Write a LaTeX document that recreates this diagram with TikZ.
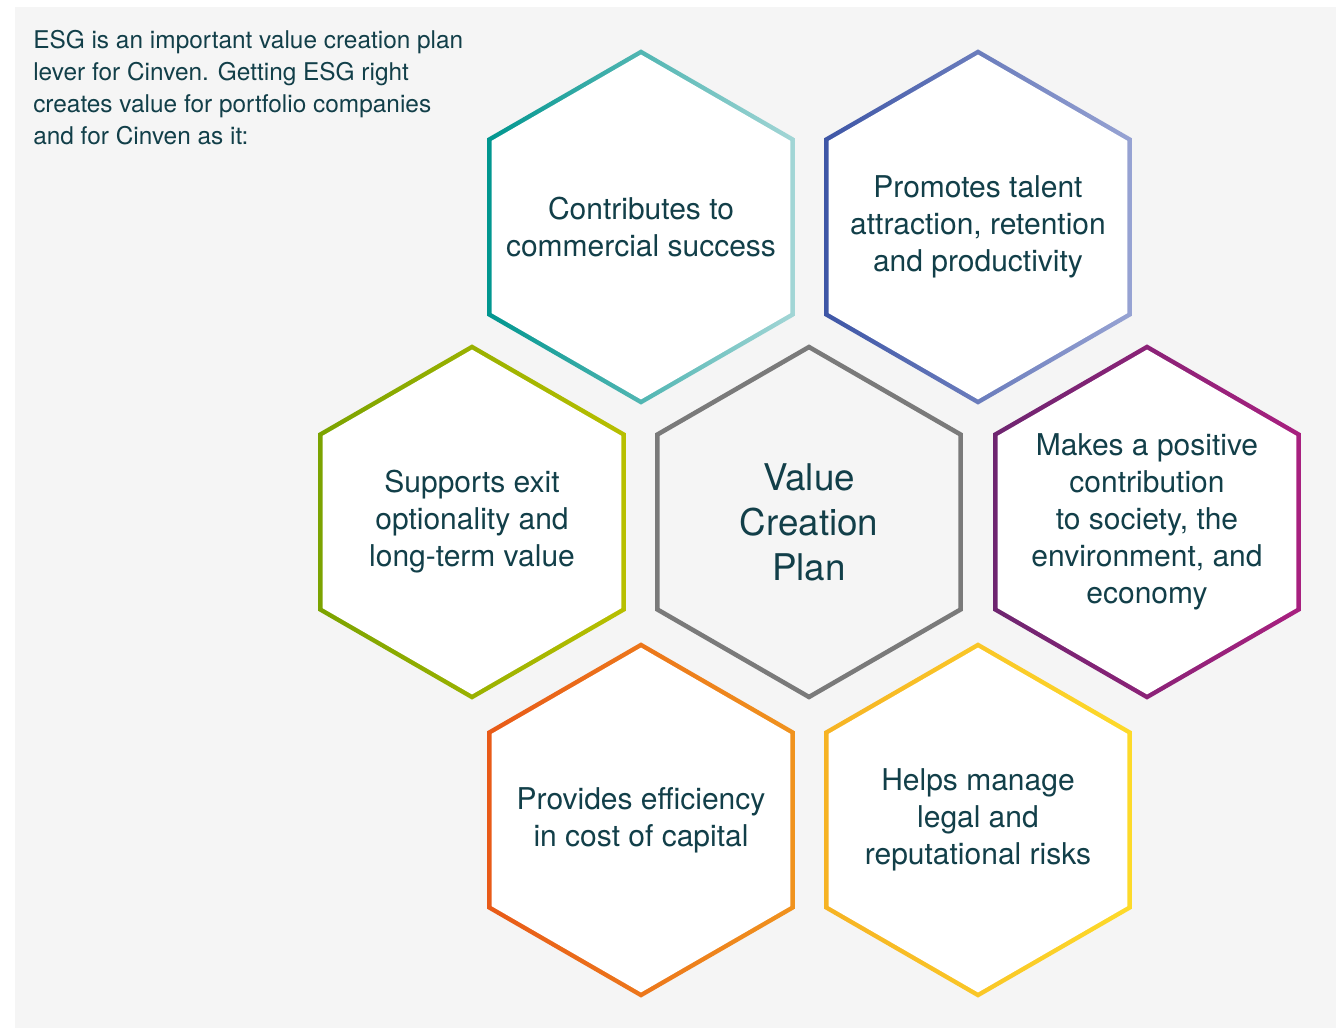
\documentclass[tikz,border=0pt]{standalone}
\usepackage{fontspec}
\setmainfont{TeX Gyre Heros}
\usetikzlibrary{shapes.geometric}

\definecolor{panel}{HTML}{F5F5F5}
\definecolor{ink}{HTML}{123F49}
\definecolor{tealA}{HTML}{00968F}
\definecolor{tealB}{HTML}{A3D6D6}
\definecolor{blueA}{HTML}{3E56A6}
\definecolor{blueB}{HTML}{97A3D3}
\definecolor{greenA}{HTML}{7BA300}
\definecolor{greenB}{HTML}{B8BF00}
\definecolor{midgrey}{HTML}{7A7A7A}
\definecolor{purpleA}{HTML}{6E2570}
\definecolor{purpleB}{HTML}{A8207F}
\definecolor{orangeA}{HTML}{E85A18}
\definecolor{orangeB}{HTML}{F0931E}
\definecolor{yellowA}{HTML}{F6B324}
\definecolor{yellowB}{HTML}{FDDA2A}

\tikzset{
  hexshape/.style={regular polygon, regular polygon sides=6,
    regular polygon rotate=30, inner sep=0pt, outer sep=0pt},
  % shaded outer hexagon; the white core on top leaves a graded ring
  ring/.style={hexshape, minimum size=266.4pt, draw=none},
  core/.style={hexshape, minimum size=258.6pt, fill=white, draw=none},
  hextext/.style={align=center, inner sep=0pt, text=ink,
    font=\fontsize{22.5}{27.75}\selectfont},
}

\begin{document}
\begin{tikzpicture}[x=0.75pt, y=-0.75pt]
\useasboundingbox (0,0) rectangle (1340,1028);
\fill[panel] (15,7) rectangle (1336,1028);

\node[anchor=north west, align=left, inner sep=0pt, text=ink,
  font=\fontsize{18.3}{24}\selectfont] (intro) at (33,30)
  {ESG is an important value creation plan\\
   lever for Cinven. Getting ESG right\\
   creates value for portfolio companies\\
   and for Cinven as it:};

% top row
\node[ring, left color=tealA, right color=tealB] (r1) at (641,227) {};
\node[core] (c1) at (r1.center) {};
\node[hextext] (t1) at (c1.center) {Contributes to\\commercial success};

\node[ring, left color=blueA, right color=blueB] (r2) at (978,227) {};
\node[core] (c2) at (r2.center) {};
\node[hextext] (t2) at (c2.center) {Promotes talent\\attraction, retention\\and productivity};

% middle row
\node[ring, left color=greenA, right color=greenB] (r3) at (472,522) {};
\node[core] (c3) at (r3.center) {};
\node[hextext] (t3) at (c3.center) {Supports exit\\optionality and\\long-term value};

\node[hexshape, minimum size=262.5pt, draw=midgrey, line width=3.4pt] (vcp) at (809,522) {};
\node[align=center, inner sep=0pt, text=ink,
  font=\fontsize{27.6}{33.75}\selectfont] (vcpt) at (vcp.center) {Value\\Creation\\Plan};

\node[ring, left color=purpleA, right color=purpleB] (r4) at (1147,522) {};
\node[core] (c4) at (r4.center) {};
\node[hextext] (t4) at (c4.center) {Makes a positive\\contribution\\to society, the\\environment, and\\economy};

% bottom row
\node[ring, left color=orangeA, right color=orangeB] (r5) at (641,820) {};
\node[core] (c5) at (r5.center) {};
\node[hextext] (t5) at (c5.center) {Provides efficiency\\in cost of capital};

\node[ring, left color=yellowA, right color=yellowB] (r6) at (978,820) {};
\node[core] (c6) at (r6.center) {};
\node[hextext] (t6) at (c6.center) {Helps manage\\legal and\\reputational risks};
\end{tikzpicture}
\end{document}
